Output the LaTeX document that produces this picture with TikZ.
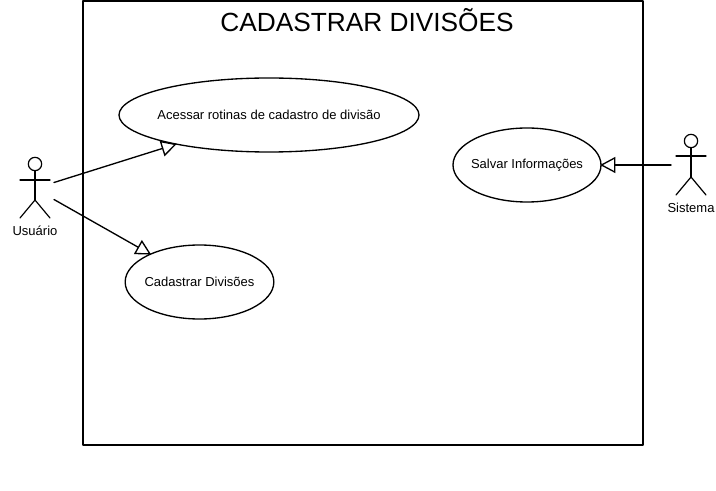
\documentclass[tikz,border=0pt]{standalone}
\usepackage{fontspec}
\setmainfont{Liberation Sans}
\usetikzlibrary{arrows.meta,shapes.geometric}

\begin{document}
\begin{tikzpicture}[
		x=0.75pt,
		y=-0.75pt,
		line cap=round,
		line join=round,
		stick/.style={
			draw=black,
			line width=0.9pt
		},
		usecase/.style={
			ellipse,
			draw=black,
			line width=1pt,
			inner ysep=0pt,
			inner xsep=-30pt,
			minimum height=55.5pt,
			font=\fontsize{9.75pt}{11pt}\selectfont
		},
		head/.style={
			circle,
			draw=black,
			line width=0.9pt,
			inner sep=0pt,
			minimum size=10pt
		},
		generalize/.style={
			draw=black,
			line width=1pt,
			shorten >=-1.2pt,
			-{Triangle[open,length=11.5pt,width=12pt,fill=white]}
		},
		caption/.style={
			font=\fontsize{9.75pt}{11pt}\selectfont
		}
		]
		
		% background
		\useasboundingbox (0,0) rectangle (716,491);
		\fill[white] (0,0) rectangle (716,491);
		
		% system boundary
		\draw[line width=1.2pt] (83,1) rectangle (643,445);
		\node[font=\fontsize{19.7pt}{24pt}\selectfont] (title) at (367,20) {CADASTRAR DIVISÕES};
		
		% use cases
		\node[usecase,minimum width=225pt] (acessar) at (269,115) {Acessar rotinas de cadastro de divisão};
		\node[usecase,minimum width=111.5pt] (cadastrar) at (199.5,282) {Cadastrar Divisões};
		\node[usecase,minimum width=111pt] (salvar) at (527,165) {Salvar Informações};
		
		% actor on the left
		\node[head] (headU) at (35,164) {};
		\coordinate (hipU) at (35,200);
		\draw[stick] (headU) -- (hipU);
		\draw[stick] (20,180) -- (50,180);
		\draw[stick] (20,218) -- (hipU) -- (50,218);
		\node[caption] (usuario) at (35,231) {Usuário};
		
		% actor on the right
		\node[head] (headS) at (691,141) {};
		\coordinate (hipS) at (691,177);
		\draw[stick] (headS) -- (hipS);
		\draw[stick] (676,156) -- (706,156);
		\draw[stick] (676,195) -- (hipS) -- (706,195);
		\node[caption] (sistema) at (691,207.5) {Sistema};
		
		% free ends beside the actors
		\coordinate (outA) at (54,182.5);
		\coordinate (outB) at (54,199.5);
		\coordinate (outS) at (671,165);
		
		% connectors
		\draw[generalize] (outA) -- (acessar);
		\draw[generalize] (outB) -- (cadastrar);
		\draw[generalize] (outS) -- (salvar);
	\end{tikzpicture}
\end{document}
